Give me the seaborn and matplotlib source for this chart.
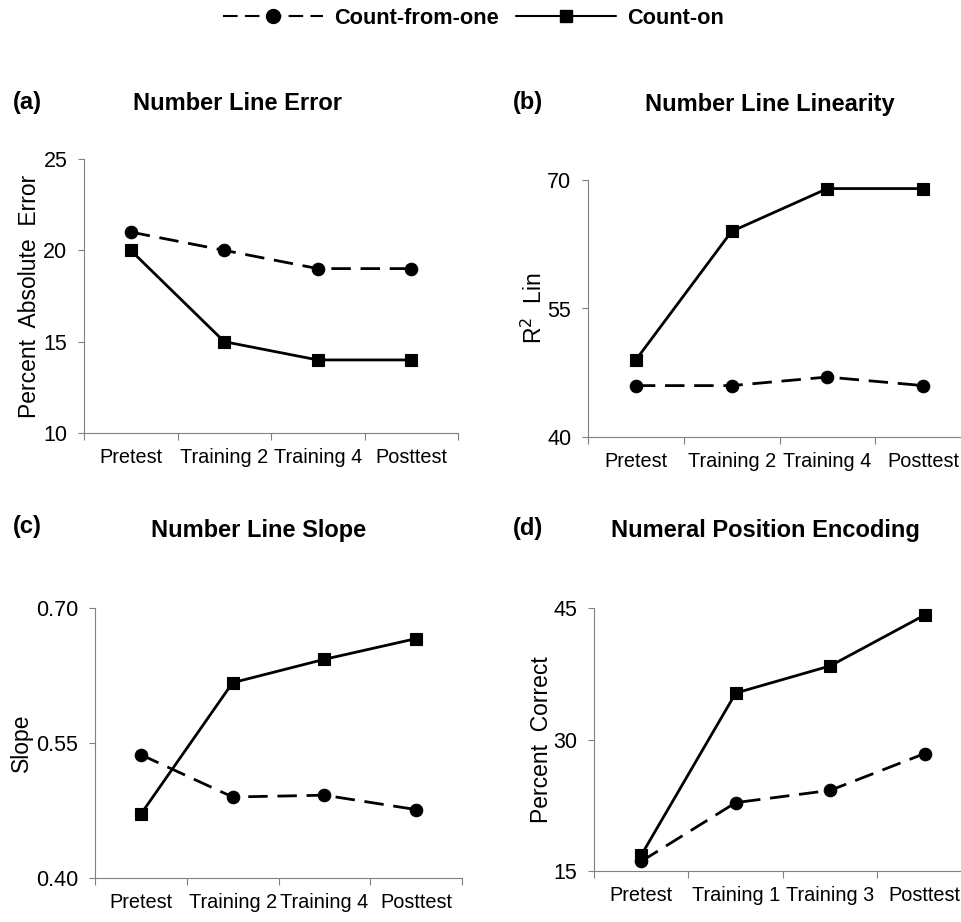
import matplotlib
matplotlib.use("Agg")
import matplotlib.pyplot as plt
import seaborn as sns
import pandas as pd
from matplotlib.lines import Line2D
from matplotlib.ticker import FormatStrFormatter

# ---------------- data ----------------
groups = ["Count-from-one", "Count-on"]
stages_even = ["Pretest", "Training 2", "Training 4", "Posttest"]
stages_odd = ["Pretest", "Training 1", "Training 3", "Posttest"]

error_count_from_one = [21, 20, 19, 19]
error_count_on = [20, 15, 14, 14]

linearity_count_from_one = [46, 46, 47, 46]
linearity_count_on = [49, 64, 69, 69]

slope_count_from_one = [0.537, 0.490, 0.492, 0.476]
slope_count_on = [0.471, 0.617, 0.643, 0.666]

encoding_count_from_one = [16.1, 22.8, 24.2, 28.4]
encoding_count_on = [16.8, 35.3, 38.4, 44.2]

yticks_error = [10, 15, 20, 25]
yticks_linearity = [40, 55, 70]
yticks_slope = [0.40, 0.55, 0.70]
yticks_encoding = [15, 30, 45]

panel_letters = ["(a)", "(b)", "(c)", "(d)"]
panel_titles = ["Number Line Error", "Number Line Linearity",
                "Number Line Slope", "Numeral Position Encoding"]
y_labels = ["Percent  Absolute  Error", "R$^2$  Lin", "Slope", "Percent  Correct"]

# ---------------- style ----------------
sns.set_theme(style="ticks")
plt.rcParams["font.family"] = ["Liberation Sans", "DejaVu Sans"]
plt.rcParams["text.color"] = "black"
plt.rcParams["axes.labelcolor"] = "black"
plt.rcParams["xtick.color"] = "black"
plt.rcParams["ytick.color"] = "black"
SPINE = "#808080"

fig = plt.figure(figsize=(9.62, 9.22), dpi=100)
W, H = 962.0, 922.0


def px_axes(left, right, top, bottom):
    return fig.add_axes([left / W, 1 - bottom / H, (right - left) / W, (bottom - top) / H])


def make_df(stages, cfo, con):
    return pd.DataFrame({
        "stage": list(stages) + list(stages),
        "group": [groups[0]] * len(stages) + [groups[1]] * len(stages),
        "value": list(cfo) + list(con),
    })


panels = [
    dict(box=(84, 458, 159, 433), stages=stages_even, cfo=error_count_from_one,
         con=error_count_on, yticks=yticks_error, fmt="%d", labx=-0.115),
    dict(box=(588, 971, 180, 437), stages=stages_even, cfo=linearity_count_from_one,
         con=linearity_count_on, yticks=yticks_linearity, fmt="%d", labx=-0.108),
    dict(box=(95, 462, 608, 878), stages=stages_even, cfo=slope_count_from_one,
         con=slope_count_on, yticks=yticks_slope, fmt="%.2f", labx=-0.168),
    dict(box=(594, 972, 608, 871), stages=stages_odd, cfo=encoding_count_from_one,
         con=encoding_count_on, yticks=yticks_encoding, fmt="%d", labx=-0.108),
]

markers = {groups[0]: "o", groups[1]: "s"}
dashes = {groups[0]: (7, 3.5), groups[1]: ""}

for i, p in enumerate(panels):
    ax = px_axes(*p["box"])
    df = make_df(p["stages"], p["cfo"], p["con"])
    sns.lineplot(data=df, x="stage", y="value", style="group", style_order=groups,
                 markers=markers, dashes=dashes, color="black", linewidth=2.0,
                 markersize=9, markeredgecolor="black", markeredgewidth=0.8,
                 legend=False, ax=ax)
    ax.set_xlim(-0.5, 3.5)
    ax.set_ylim(p["yticks"][0], p["yticks"][-1])
    ax.set_yticks(p["yticks"])
    ax.yaxis.set_major_formatter(FormatStrFormatter(p["fmt"]))
    ax.set_xticks([-0.5, 0.5, 1.5, 2.5, 3.5])
    ax.set_xticklabels([])
    ax.set_xticks(range(4), labels=p["stages"], minor=True)
    ax.tick_params(axis="x", which="minor", length=0, pad=11, labelsize=14.3,
                   labelcolor="black")
    ax.tick_params(axis="x", which="major", length=5, width=0.8, color=SPINE,
                   direction="out")
    ax.tick_params(axis="y", which="major", length=4, width=0.8, color=SPINE,
                   direction="out", pad=8, labelsize=15.5, labelcolor="black")
    for side in ["top", "right"]:
        ax.spines[side].set_visible(False)
    for side in ["left", "bottom"]:
        ax.spines[side].set_color(SPINE)
        ax.spines[side].set_linewidth(0.8)
    ax.set_xlabel("")
    ax.set_ylabel(y_labels[i], fontsize=16.5, color="black")
    ax.yaxis.set_label_coords(p["labx"], 0.5)

# panel letters and titles
letter_pos = [(13, 102), (513, 102), (13, 527), (513, 528)]
title_pos = [(238, 104), (770, 105), (259, 530), (765, 530)]
for (lx, ly), (tx, ty), letter, title in zip(letter_pos, title_pos, panel_letters, panel_titles):
    fig.text(lx / W, 1 - ly / H, letter, fontsize=17, fontweight="bold",
             ha="left", va="center", color="black")
    fig.text(tx / W, 1 - ty / H, title, fontsize=17, fontweight="bold",
             ha="center", va="center", color="black")

# legend
handles = [
    Line2D([], [], color="black", linewidth=1.5, linestyle=(0, (7, 3.5)), marker="o",
           markersize=10, markeredgecolor="black"),
    Line2D([], [], color="black", linewidth=1.5, linestyle="-", marker="s",
           markersize=9, markeredgecolor="black"),
]
leg = fig.legend(handles, groups, loc="center", bbox_to_anchor=(473.5 / W, 1 - 18 / H),
                 ncol=2, frameon=False, handlelength=4.6, handletextpad=0.5,
                 columnspacing=0.8, prop={"size": 15.7, "weight": "bold"})
for t in leg.get_texts():
    t.set_color("black")

fig.savefig("out.png", dpi=100)
